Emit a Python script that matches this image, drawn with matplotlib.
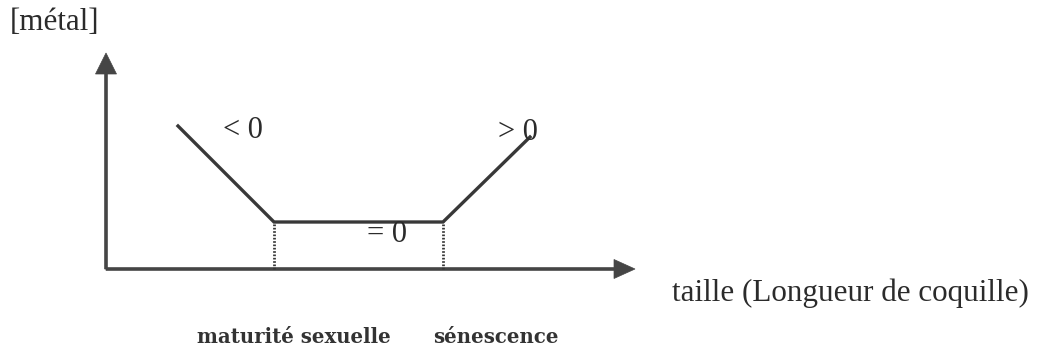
import matplotlib
matplotlib.use("Agg")
import matplotlib.pyplot as plt

# Schematic data (units: arbitrary, origin at the axes corner)
curve_x = [72, 168, 337, 424]
curve_y = [143, 47, 47, 132]
stage_x = [168, 337]            # maturité sexuelle, sénescence
stage_labels = ["maturité sexuelle", "sénescence"]
slope_labels = ["< 0", "= 0", "> 0"]
x_label = "taille (Longueur de coquille)"
y_label = "[métal]"
x_axis_len = 529
y_axis_len = 216

LINE = "#383838"
HEAD = "#454545"

fig = plt.figure(figsize=(10.39, 3.49), dpi=100)
ax = fig.add_axes([0, 0, 1, 1])
ax.set_xlim(-106, 933)
ax.set_ylim(-80, 269)
ax.axis("off")

# axes with arrows
ax.arrow(0, 0, x_axis_len, 0, width=2.8, head_width=19, head_length=21,
         length_includes_head=True, fc=HEAD, ec=HEAD, lw=0.5)
ax.arrow(0, 0, 0, y_axis_len, width=2.8, head_width=21, head_length=21,
         length_includes_head=True, fc=HEAD, ec=HEAD, lw=0.5)

# curve
ax.plot(curve_x, curve_y, color=LINE, lw=2.4, solid_joinstyle="miter")

# dotted vertical lines at stage boundaries
for sx in stage_x:
    ax.plot([sx, sx], [0, curve_y[1]], color=LINE, lw=2.0, linestyle=(0, (0.6, 0.6)))

serif = ["Liberation Serif", "DejaVu Serif"]
tc = "#2b2b2b"
ax.text(-96, 246, y_label, fontsize=22.3, family=serif, color=tc, va="center", ha="left")
ax.text(117, 138, slope_labels[0], fontsize=22, family=serif, color=tc, va="center", ha="left")
ax.text(261, 35, slope_labels[1], fontsize=22, family=serif, color=tc, va="center", ha="left")
ax.text(392, 137, slope_labels[2], fontsize=22, family=serif, color=tc, va="center", ha="left")
ax.text(566, -24, x_label, fontsize=22.4, family=serif, color=tc, va="center", ha="left")

bold = ["DejaVu Serif"]
ax.text(91, -68, stage_labels[0], fontsize=14.2, family=bold, weight="bold",
        color="#333333", va="center", ha="left")
ax.text(327, -68, stage_labels[1], fontsize=14.2, family=bold, weight="bold",
        color="#333333", va="center", ha="left")

fig.savefig("out.png", dpi=100, facecolor="white")
